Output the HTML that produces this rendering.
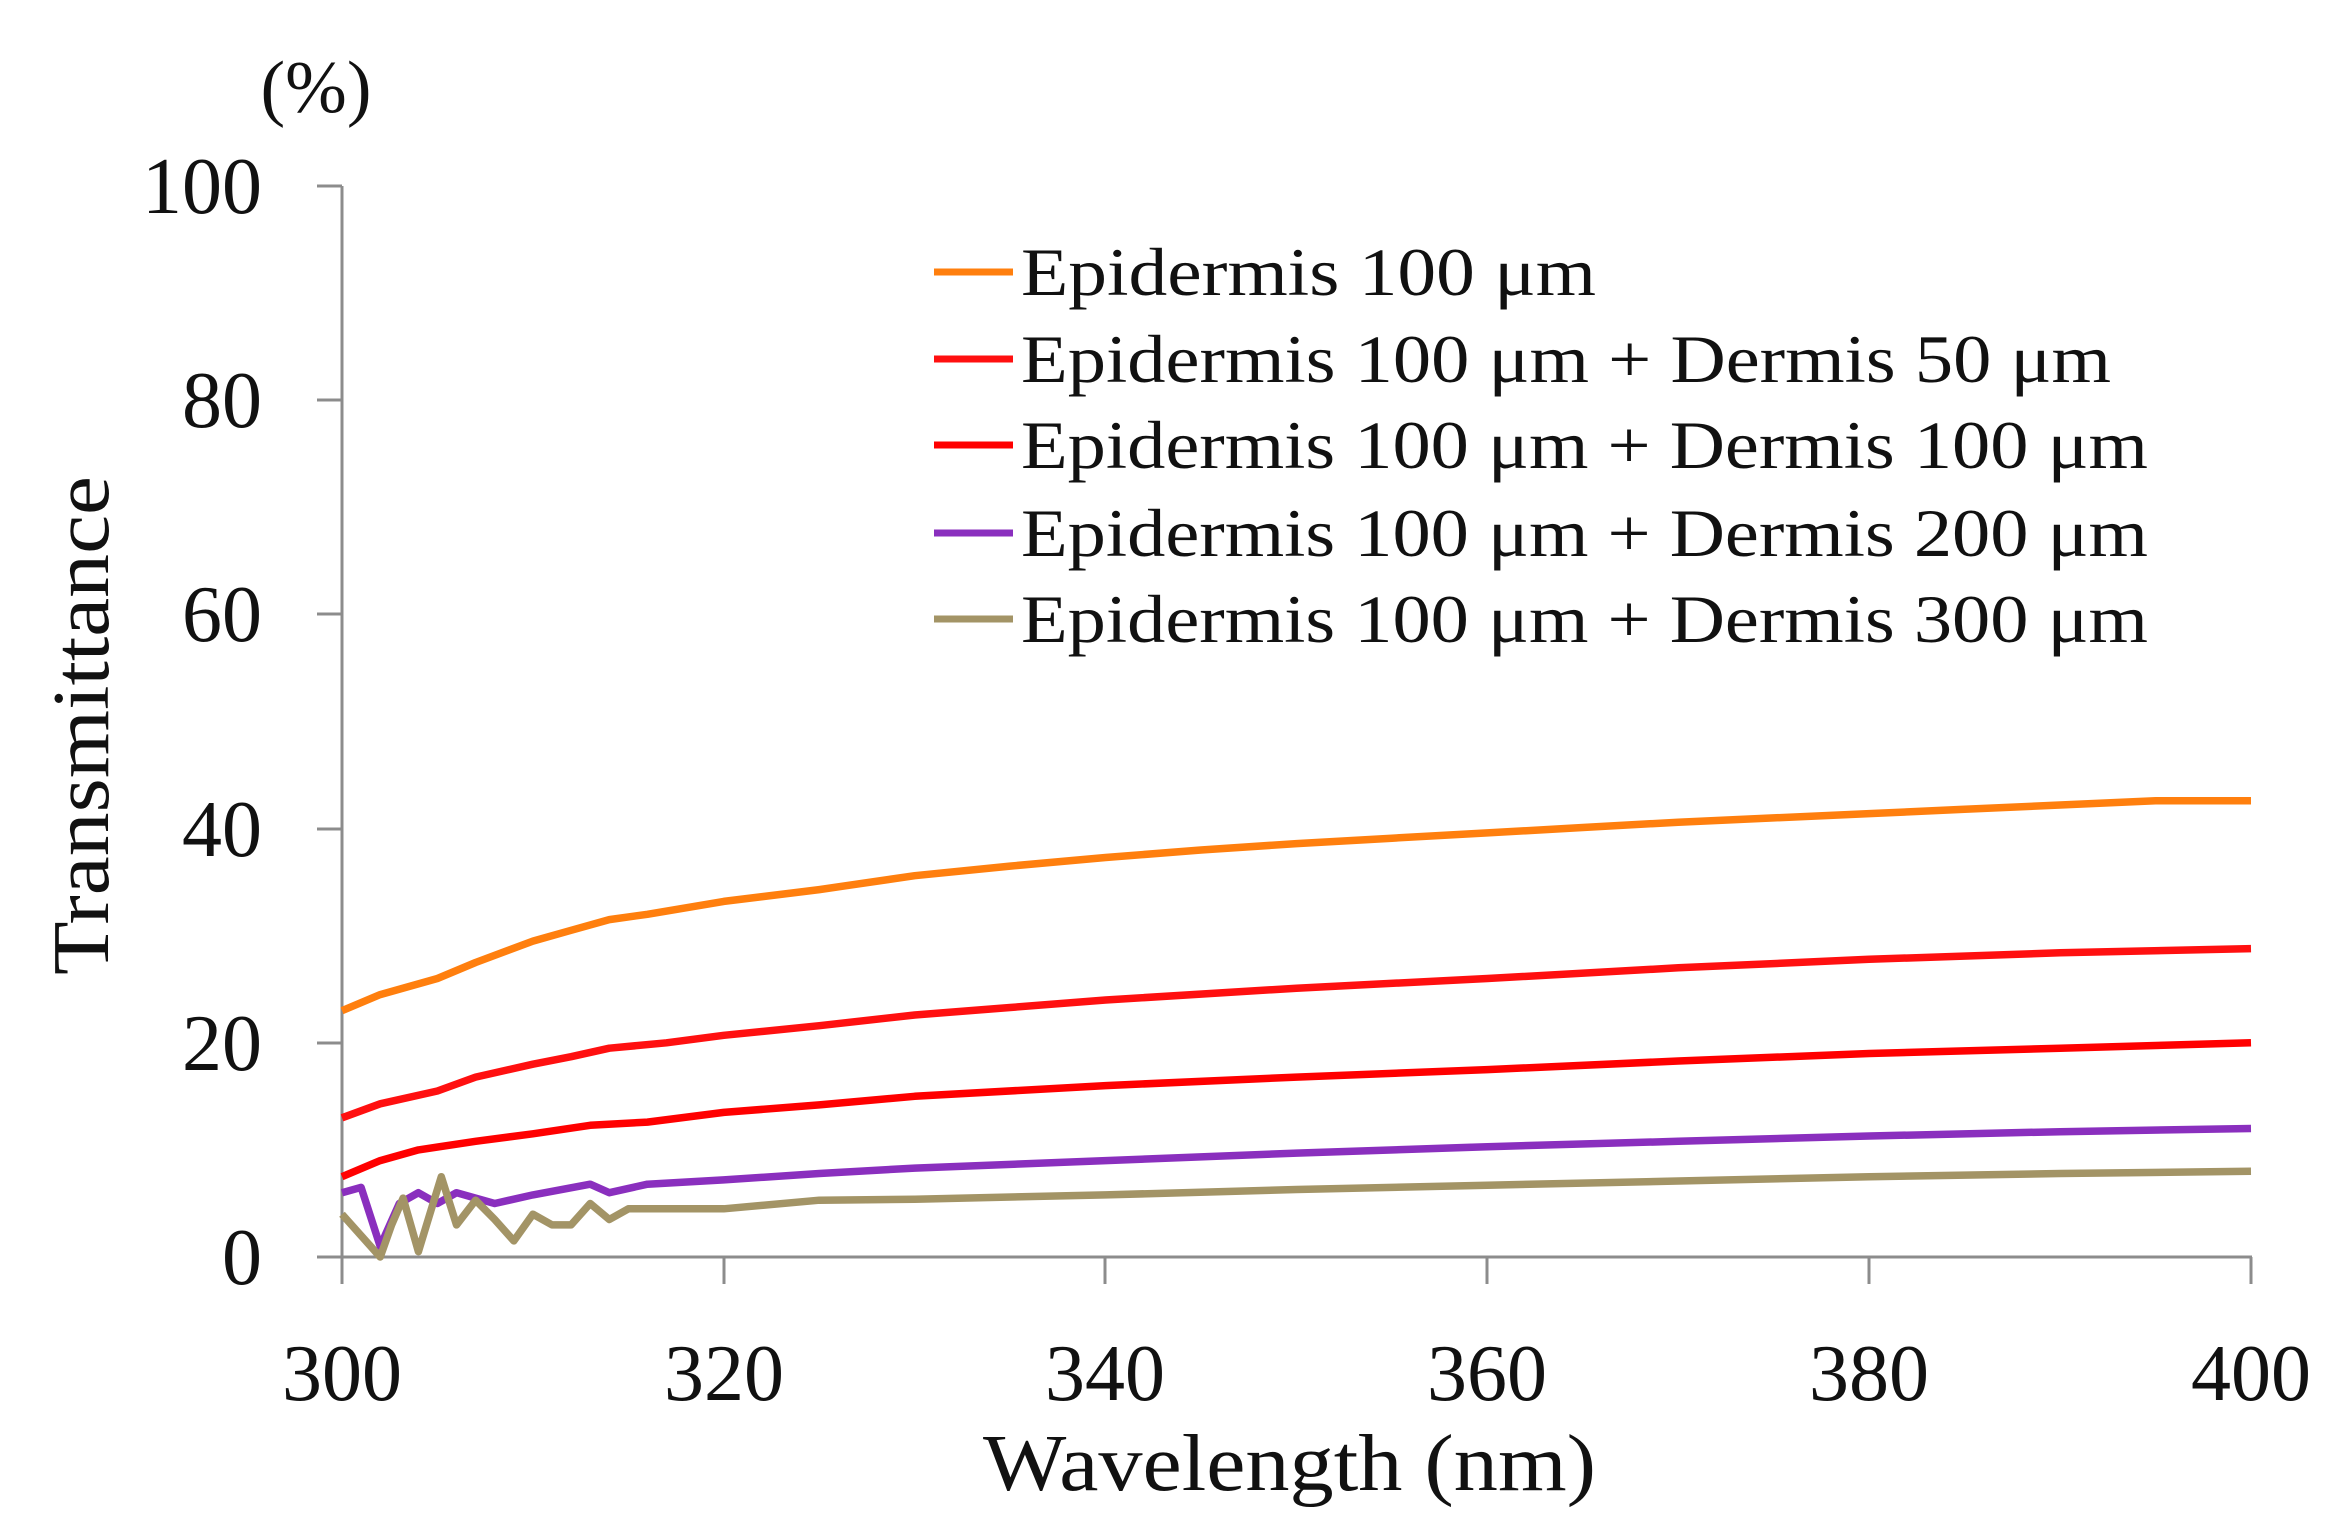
<!DOCTYPE html>
<html><head><meta charset="utf-8"><style>
html,body{margin:0;padding:0;background:#fff}
svg text{font-family:"Liberation Serif",serif;fill:#111}
</style></head><body>
<svg id="s" width="2335" height="1523" viewBox="0 0 2335 1523" xmlns="http://www.w3.org/2000/svg">
<rect width="2335" height="1523" fill="#fff"/>
<g stroke="#8c8c8c" stroke-width="3" fill="none">
<line x1="342" y1="186" x2="342" y2="1257"/>
<line x1="342" y1="1257" x2="2252" y2="1257"/>
<line x1="317" y1="186" x2="342" y2="186"/>
<line x1="317" y1="400" x2="342" y2="400"/>
<line x1="317" y1="614" x2="342" y2="614"/>
<line x1="317" y1="829" x2="342" y2="829"/>
<line x1="317" y1="1043" x2="342" y2="1043"/>
<line x1="317" y1="1257" x2="342" y2="1257"/>
<line x1="342" y1="1257" x2="342" y2="1284"/>
<line x1="724" y1="1257" x2="724" y2="1284"/>
<line x1="1105" y1="1257" x2="1105" y2="1284"/>
<line x1="1487" y1="1257" x2="1487" y2="1284"/>
<line x1="1869" y1="1257" x2="1869" y2="1284"/>
<line x1="2251" y1="1257" x2="2251" y2="1284"/>
</g>
<g font-size="80" text-anchor="end">
<text x="262" y="213">100</text>
<text x="262" y="427">80</text>
<text x="262" y="641">60</text>
<text x="262" y="856">40</text>
<text x="262" y="1070">20</text>
<text x="262" y="1284">0</text>
</g>
<g font-size="80" text-anchor="middle">
<text x="342" y="1400">300</text>
<text x="724" y="1400">320</text>
<text x="1105" y="1400">340</text>
<text x="1487" y="1400">360</text>
<text x="1869" y="1400">380</text>
<text x="2251" y="1400">400</text>
<text x="316" y="112" font-size="74">(%)</text>
</g>
<text x="983" y="1490" font-size="80" textLength="613" lengthAdjust="spacingAndGlyphs">Wavelength (nm)</text>
<text transform="translate(108,975) rotate(-90)" font-size="80" textLength="499" lengthAdjust="spacingAndGlyphs">Transmittance</text>
<g font-size="68">
<text x="1021" y="295" textLength="575" lengthAdjust="spacingAndGlyphs">Epidermis 100 μm</text>
<text x="1021" y="382" textLength="1090" lengthAdjust="spacingAndGlyphs">Epidermis 100 μm + Dermis 50 μm</text>
<text x="1021" y="468" textLength="1127" lengthAdjust="spacingAndGlyphs">Epidermis 100 μm + Dermis 100 μm</text>
<text x="1021" y="556" textLength="1127" lengthAdjust="spacingAndGlyphs">Epidermis 100 μm + Dermis 200 μm</text>
<text x="1021" y="642" textLength="1127" lengthAdjust="spacingAndGlyphs">Epidermis 100 μm + Dermis 300 μm</text>
</g>
<g stroke-width="7">
<line x1="934" y1="272" x2="1013" y2="272" stroke="#ff7f0e"/>
<line x1="934" y1="359" x2="1013" y2="359" stroke="#ff1010"/>
<line x1="934" y1="445" x2="1013" y2="445" stroke="#ff0000"/>
<line x1="934" y1="533" x2="1013" y2="533" stroke="#8a2fbe"/>
<line x1="934" y1="619" x2="1013" y2="619" stroke="#a39466"/>
</g>
<g id="d" fill="none" stroke-width="7.5" stroke-linejoin="round"></g>
</svg>
<script>
var S=[
["#ff7f0e",[[300,23],[302,24.5],[305,26],[307,27.5],[310,29.5],[312,30.5],[314,31.5],[316,32],[320,33.2],[325,34.3],[330,35.6],[335,36.5],[340,37.3],[345,38],[350,38.6],[355,39.1],[360,39.6],[365,40.1],[370,40.6],[375,41],[380,41.4],[385,41.8],[390,42.2],[395,42.6],[400,42.6]]],
["#ff1010",[[300,13],[302,14.3],[305,15.5],[307,16.8],[310,18],[312,18.7],[314,19.5],[317,20],[320,20.7],[325,21.6],[330,22.6],[335,23.3],[340,24],[350,25.1],[360,26],[370,27],[380,27.8],[390,28.4],[400,28.8]]],
["#ff0000",[[300,7.5],[302,9],[304,10],[307,10.8],[310,11.5],[313,12.3],[316,12.6],[320,13.5],[325,14.2],[330,15],[340,16],[350,16.8],[360,17.5],[370,18.3],[380,19],[390,19.5],[400,20]]],
["#8a2fbe",[[300,6],[301,6.5],[302,1],[303,5],[304,6],[305,5],[306,6],[307,5.5],[308,5],[310,5.8],[313,6.8],[314,6],[316,6.8],[320,7.2],[325,7.8],[330,8.3],[340,9],[350,9.7],[360,10.3],[370,10.8],[380,11.3],[390,11.7],[400,12]]],
["#a39466",[[300,4],[301,2],[302,0],[302.6,3],[303.2,5.5],[304,0.5],[304.6,4],[305.2,7.5],[306,3],[307,5.3],[308,3.5],[309,1.5],[310,4],[311,3],[312,3],[313,5],[314,3.5],[315,4.5],[317,4.5],[320,4.5],[325,5.3],[330,5.4],[340,5.8],[350,6.3],[360,6.7],[370,7.1],[380,7.5],[390,7.8],[400,8]]]
];
var g=document.getElementById("d"),h="";
S.forEach(function(s){var p=s[1].map(function(q,i){return (i?"L":"M")+(342+(q[0]-300)*19.09).toFixed(1)+","+(1257-q[1]*10.71).toFixed(1)}).join("");
h+='<path stroke="'+s[0]+'" d="'+p+'"/>';});
g.innerHTML=h;
</script>
</body></html>
